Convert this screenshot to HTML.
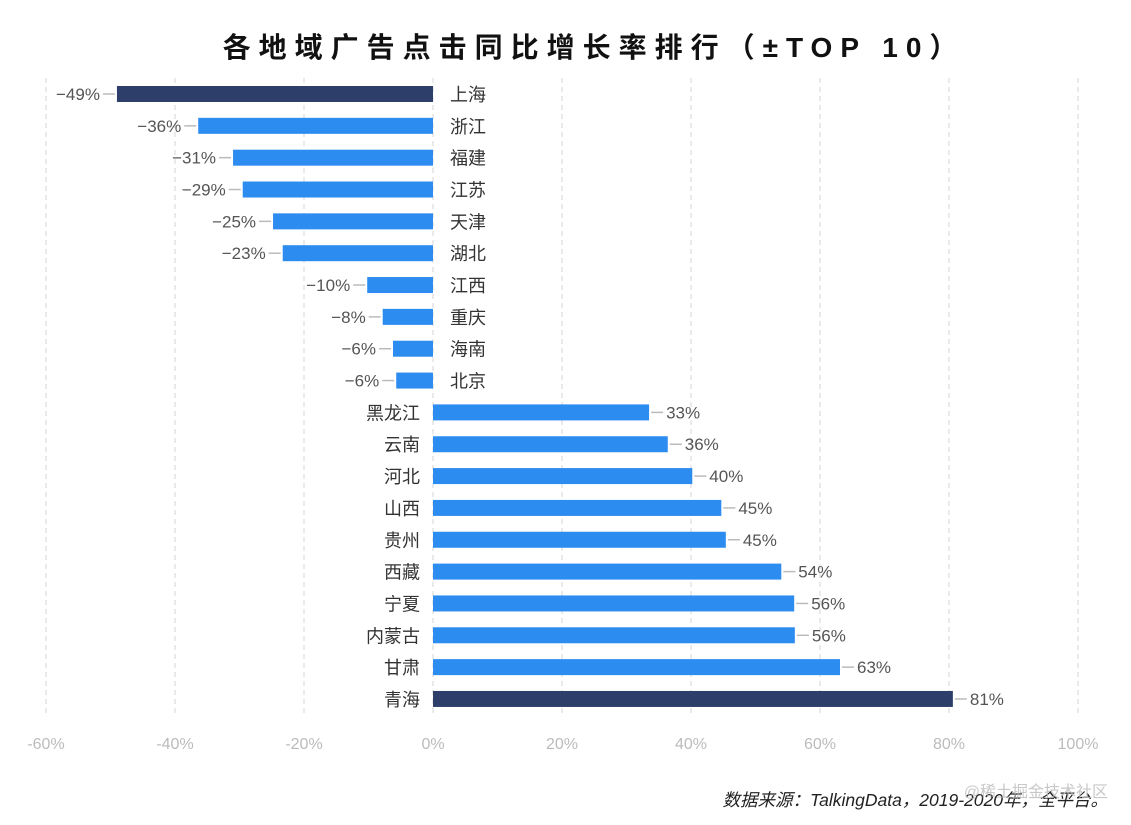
<!DOCTYPE html>
<html><head><meta charset="utf-8"><style>
body{margin:0;background:#fff;}
svg{display:block;font-family:"Liberation Sans","Noto Sans CJK SC",sans-serif;}
</style></head><body>
<svg id="c" width="1131" height="825">
<text x="594" y="57" text-anchor="middle" font-size="28" font-weight="bold" fill="#111" letter-spacing="8">各地域广告点击同比增长率排行（±TOP 10）</text>
<g id="grid"></g><g id="bars"></g><g id="xt"></g>
<text x="1108" y="806" text-anchor="end" font-size="17.5" font-style="italic" fill="#222">数据来源：TalkingData，2019-2020年，全平台。</text>
<text x="1108" y="797" text-anchor="end" font-size="16" fill="#bbb" opacity="0.8">@稀土掘金技术社区</text>
</svg>
<script>
const categories=["上海","浙江","福建","江苏","天津","湖北","江西","重庆","海南","北京","黑龙江","云南","河北","山西","贵州","西藏","宁夏","内蒙古","甘肃","青海"];
const values=[-49,-36.4,-31,-29.5,-24.8,-23.3,-10.2,-7.8,-6.2,-5.7,33.5,36.4,40.2,44.7,45.4,54,56,56.1,63.1,80.6];
const valueLabels=["−49%","−36%","−31%","−29%","−25%","−23%","−10%","−8%","−6%","−6%","33%","36%","40%","45%","45%","54%","56%","56%","63%","81%"];
const ticks=[-60,-40,-20,0,20,40,60,80,100];
const highlight=["上海","青海"];
const ns="http://www.w3.org/2000/svg";
const X=v=>433+v*6.45;
const Y=i=>94+i*31.84;
function mk(t,a,p){const e=document.createElementNS(ns,t);for(const k in a)e.setAttribute(k,a[k]);p.appendChild(e);return e;}
const G=document.getElementById('grid'),B=document.getElementById('bars'),T=document.getElementById('xt');
ticks.forEach(t=>{
  const l=mk('line',{x1:X(t),x2:X(t),y1:78,y2:716,stroke:'#ddd','stroke-dasharray':'5,4','stroke-width':1.2},G);
  
  
  const tx=mk('text',{x:X(t),y:749,'text-anchor':'middle','font-size':16,fill:'#bbb'},T);
  tx.textContent=t+'%';
  
  
});
categories.forEach((c,i)=>{
  const v=values[i],y=Y(i),x0=X(0),x1=X(v);
  const col=highlight.includes(c)?'#2d3e6b':'#2d8cf0';
  const r=mk('rect',{x:Math.min(x0,x1),y:y-8,width:Math.abs(x1-x0),height:16,fill:col},B);
  
  
  const s=v<0?-1:1;
  mk('line',{x1:x1+s*2,x2:x1+s*14,y1:y,y2:y,stroke:'#bbb','stroke-width':1.5},B);
  const lb=mk('text',{x:x1+s*17,y:y+6,'text-anchor':v<0?'end':'start','font-size':17,fill:'#555'},B);
  lb.textContent=valueLabels[i];
  
  
  const cl=mk('text',{x:v<0?x0+17:x0-13,y:y+7,'text-anchor':v<0?'start':'end','font-size':18,fill:'#333'},B);
  cl.textContent=c;
  
  
});
</script>
</body></html>
